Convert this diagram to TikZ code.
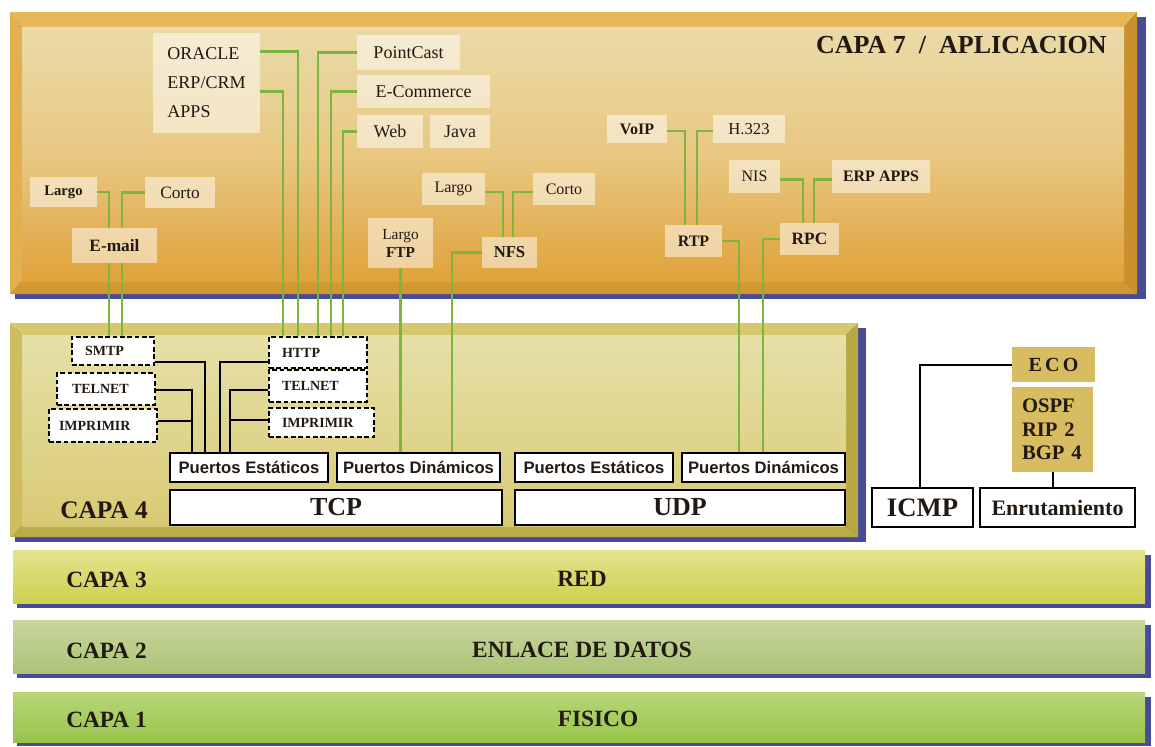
\documentclass[tikz,border=0pt]{standalone}
\usepackage{fontspec}
\setmainfont{Liberation Serif}
\newfontfamily\puertosfont{Liberation Sans}
\usetikzlibrary{calc}

\definecolor{gline}{RGB}{125,182,62}
\definecolor{shblue}{RGB}{72,76,150}
\definecolor{bevtopA}{RGB}{230,184,90}
\definecolor{bevleftA}{RGB}{226,176,78}
\definecolor{bevbotA}{RGB}{212,152,50}
\definecolor{bevrightA}{RGB}{202,144,46}
\definecolor{facetopA}{RGB}{234,218,168}
\definecolor{facemidA}{RGB}{232,200,130}
\definecolor{facebotA}{RGB}{224,162,58}
\definecolor{bevtopB}{RGB}{214,200,110}
\definecolor{bevleftB}{RGB}{206,190,96}
\definecolor{bevbotB}{RGB}{188,172,72}
\definecolor{bevrightB}{RGB}{184,168,68}
\definecolor{facetopB}{RGB}{230,224,168}
\definecolor{facebotB}{RGB}{216,202,116}
\definecolor{lthreetop}{RGB}{226,228,140}
\definecolor{lthreebot}{RGB}{206,208,80}
\definecolor{ltwotop}{RGB}{200,214,160}
\definecolor{ltwobot}{RGB}{172,196,118}
\definecolor{lonetop}{RGB}{184,214,120}
\definecolor{lonebot}{RGB}{152,196,74}
\definecolor{ecofill}{RGB}{216,188,98}
\definecolor{ink}{RGB}{34,26,18}

\newcommand\fs[2]{\fontsize{#1}{#2}\selectfont}
\newcommand\mybox[7]{\pgfmathsetmacro\bxw{(#4-#2)*0.75}\pgfmathsetmacro\bxh{(#5-#3)*0.75}%
  \node[inner sep=0pt, minimum width=\bxw pt, minimum height=\bxh pt, #6] (#1) at ({(#2+#4)/2},{(#3+#5)/2}) {#7};}
\newcommand\myleftbox[8]{\pgfmathsetmacro\bxw{(#4-#2)*0.75}\pgfmathsetmacro\bxh{(#5-#3)*0.75}%
  \pgfmathsetmacro\lbtw{(#4-#2-2*#7)*0.75}%
  \node[inner xsep=#7*0.75pt, inner ysep=0pt, text width=\lbtw pt, align=left, minimum width=\bxw pt, minimum height=\bxh pt, #6] (#1) at ({(#2+#4)/2},{(#3+#5)/2}) {#8};}

\tikzset{
  appbox/.style={fill=white, fill opacity=0.5, text opacity=1, text=ink},
  gl/.style={draw=gline, line width=2.2pt},
  bl/.style={draw=black, line width=1.5pt},
  dbox/.style={fill=white, draw=black, line width=1.1pt, dash pattern=on 3.5pt off 2pt, text=ink, font=\bfseries\fs{10.5}{12}},
  wbox/.style={fill=white, draw=black, line width=1.2pt, text=ink},
  pbox/.style={wbox, font=\puertosfont\bfseries\fs{12.5}{14}},
  gbox/.style={fill=ecofill, text=ink},
  lbl/.style={text=ink, inner sep=0pt},
}

\begin{document}
\begin{tikzpicture}[x=0.75pt,y=-0.75pt]
\useasboundingbox (0,0) rectangle (1155,746);
\fill[white] (0,0) rectangle (1155,746);

% ---------- Layer 7 panel ----------
\fill[shblue] (15,17) rectangle (1146,299);
\fill[bevtopA] (10,12) -- (1137,12) -- (1124,27) -- (22,27) -- cycle;
\fill[bevleftA] (10,12) -- (22,27) -- (22,281) -- (10,294) -- cycle;
\fill[bevbotA] (10,294) -- (22,281) -- (1124,281) -- (1137,294) -- cycle;
\fill[bevrightA] (1137,12) -- (1124,27) -- (1124,281) -- (1137,294) -- cycle;
\shade[top color=facetopA, bottom color=facebotA, middle color=facemidA] (22,27) rectangle (1124,281);

% ---------- Layer 4 panel ----------
\fill[shblue] (15,328) rectangle (866,542);
\fill[bevtopB] (10,323) -- (858,323) -- (846,335) -- (22,335) -- cycle;
\fill[bevleftB] (10,323) -- (22,335) -- (22,526) -- (10,537) -- cycle;
\fill[bevbotB] (10,537) -- (22,526) -- (846,526) -- (858,537) -- cycle;
\fill[bevrightB] (858,323) -- (846,335) -- (846,526) -- (858,537) -- cycle;
\shade[top color=facetopB, bottom color=facebotB] (22,335) rectangle (846,526);

% ---------- Bands 3,2,1 ----------
\fill[shblue] (17,555) rectangle (1151,608);
\shade[top color=lthreetop, bottom color=lthreebot] (13,550) rectangle (1145,603);
\fill[shblue] (17,625) rectangle (1151,678);
\shade[top color=ltwotop, bottom color=ltwobot] (13,620) rectangle (1145,673);
\fill[shblue] (17,697) rectangle (1151,746);
\shade[top color=lonetop, bottom color=lonebot] (13,692) rectangle (1145,742);

% ---------- Titles ----------
\node[lbl, anchor=east, font=\bfseries\fs{19.5}{22}] (capa7) at (1107,45) {CAPA 7 \ / \ APLICACION};
\node[lbl, font=\bfseries\fs{19}{22}] (capa4) at (104,510) {CAPA 4};
\node[lbl, anchor=west, font=\bfseries\fs{17.5}{20}] (capa3) at (66,580) {CAPA 3};
\node[lbl, font=\bfseries\fs{17.5}{20}] (red) at (582,579) {RED};
\node[lbl, anchor=west, font=\bfseries\fs{17.5}{20}] (capa2) at (66,651) {CAPA 2};
\node[lbl, font=\bfseries\fs{17.5}{20}] (enlace) at (582,650) {ENLACE DE DATOS};
\node[lbl, anchor=west, font=\bfseries\fs{17.5}{20}] (capa1) at (66,720) {CAPA 1};
\node[lbl, font=\bfseries\fs{17.5}{20}] (fisico) at (598,719) {FISICO};

% ---------- Layer 7 boxes ----------
\mybox{oracle}{153}{33}{260}{133}{appbox, align=left, font=\fs{13.5}{21.75}}{ORACLE\\ERP/CRM\\APPS}
\mybox{pointcast}{357}{35}{460}{70}{appbox, font=\fs{13.5}{16}}{PointCast}
\mybox{ecommerce}{357}{75}{490}{108}{appbox, font=\fs{13.5}{16}}{E-Commerce}
\mybox{web}{357}{115}{423}{148}{appbox, font=\fs{13.5}{16}}{Web}
\mybox{java}{430}{115}{490}{148}{appbox, font=\fs{13.5}{16}}{Java}
\mybox{largoA}{30}{177}{97}{207}{appbox, font=\bfseries\fs{11}{13}}{Largo}
\mybox{cortoA}{145}{177}{215}{208}{appbox, font=\fs{13}{15}}{Corto}
\mybox{email}{72}{228}{157}{263}{appbox, font=\bfseries\fs{13}{15}}{E-mail}
\mybox{ftp}{368}{218}{433}{268}{appbox, align=center, font=\fs{11.5}{13.5}}{Largo\\\textbf{FTP}}
\mybox{largoB}{422}{173}{485}{205}{appbox, font=\fs{12}{14}}{Largo}
\mybox{cortoB}{533}{173}{595}{205}{appbox, font=\fs{12}{14}}{Corto}
\mybox{nfs}{482}{237}{537}{268}{appbox, font=\bfseries\fs{12.5}{14}}{NFS}
\mybox{voip}{607}{115}{667}{143}{appbox, font=\bfseries\fs{12}{14}}{VoIP}
\mybox{hthree}{713}{115}{785}{143}{appbox, font=\fs{12.5}{14}}{H.323}
\mybox{rtp}{665}{225}{722}{257}{appbox, font=\bfseries\fs{12}{14}}{RTP}
\mybox{nis}{729}{160}{780}{193}{appbox, font=\fs{12}{14}}{NIS}
\mybox{erpapps}{832}{160}{930}{193}{appbox, font=\bfseries\fs{12}{14}}{ERP APPS}
\mybox{rpc}{780}{223}{839}{255}{appbox, font=\bfseries\fs{13}{15}}{RPC}

% ---------- Layer 4 boxes ----------
\myleftbox{smtp}{72}{337}{154}{365}{dbox}{13}{SMTP}
\myleftbox{telnetA}{57}{373}{155}{405}{dbox}{15}{TELNET}
\myleftbox{imprA}{49}{409}{157}{442}{dbox}{10}{IMPRIMIR}
\myleftbox{http}{269}{337}{367}{368}{dbox}{13}{HTTP}
\myleftbox{telnetB}{269}{370}{367}{402}{dbox}{13}{TELNET}
\myleftbox{imprB}{269}{408}{374}{437}{dbox}{13}{IMPRIMIR}
\mybox{pet}{170}{453}{328}{482}{pbox}{Puertos Estáticos}
\mybox{pdt}{337}{453}{500}{482}{pbox}{Puertos Dinámicos}
\mybox{peu}{515}{453}{673}{482}{pbox}{Puertos Estáticos}
\mybox{pdu}{682}{453}{845}{482}{pbox}{Puertos Dinámicos}
\mybox{tcp}{170}{490}{502}{525}{wbox, font=\bfseries\fs{19.5}{22}}{TCP}
\mybox{udp}{515}{490}{845}{525}{wbox, font=\bfseries\fs{19.5}{22}}{UDP}

% ---------- ICMP / routing ----------
\mybox{eco}{1012}{347}{1095}{382}{gbox, font=\bfseries\fs{15}{17}}{E\,C\,O}
\myleftbox{ospf}{1012}{387}{1093}{472}{gbox, font=\bfseries\fs{15.5}{17.6}}{10}{OSPF\\RIP 2\\BGP 4}
\mybox{icmp}{872}{488}{973}{527}{wbox, font=\bfseries\fs{20}{22}}{ICMP}
\mybox{enr}{980}{488}{1135}{527}{wbox, font=\bfseries\fs{16.5}{19}}{Enrutamiento}

% ---------- Green connectors ----------
\draw[gl] (largoA.east) -| ($(email.north)+(-5.5,0)$);
\draw[gl] (cortoA.west) -| ($(email.north)+(7.5,0)$);
\draw[gl] ($(email.south)+(-5.5,0)$) -- ($(smtp.north)+(-4,0)$);
\draw[gl] ($(email.south)+(7.5,0)$) -- ($(smtp.north)+(9,0)$);

\draw[gl] ($(oracle.north east)+(0,19)$) -| ($(http.north)+(-20,0)$);
\draw[gl] ($(oracle.north east)+(0,59)$) -| ($(http.north)+(-35,0)$);
\draw[gl] (pointcast.west) -| (http.north);
\draw[gl] (ecommerce.west) -| ($(http.north)+(13,0)$);
\draw[gl] (web.west) -| ($(http.north)+(25,0)$);

\draw[gl] (ftp.south) -- (ftp.south |- pdt.north);
\draw[gl] ($(largoB.east)+(0,3)$) -| ($(nfs.north)+(-6.5,0)$);
\draw[gl] ($(cortoB.west)+(0,3)$) -| ($(nfs.north)+(3.5,0)$);
\draw[gl] (nfs.west) -| ($(pdt.north)+(33.5,0)$);

\draw[gl] ($(voip.east)+(0,2)$) -| ($(rtp.north)+(-8.5,0)$);
\draw[gl] ($(hthree.west)+(0,2)$) -| ($(rtp.north)+(3.5,0)$);
\draw[gl] (rtp.east) -| ($(pdu.north)+(-24.5,0)$);
\draw[gl] ($(nis.east)+(0,3)$) -| ($(rpc.north)+(-6.5,0)$);
\draw[gl] ($(erpapps.west)+(0,3)$) -| ($(rpc.north)+(4.5,0)$);
\draw[gl] (rpc.west) -| ($(pdu.north)+(-0.5,0)$);

% ---------- Black connectors ----------
\draw[bl] ($(smtp.east)+(0,11)$) -| ($(pet.north)+(-44,0)$);
\draw[bl] ($(telnetA.east)+(0,1)$) -| ($(pet.north)+(-57,0)$);
\draw[bl] ($(imprA.east)+(0,-5)$) -| ($(pet.north)+(-57,0)$);
\draw[bl] ($(http.west)+(0,9.5)$) -| ($(pet.north)+(-29,0)$);
\draw[bl] ($(telnetB.west)+(0,4)$) -| ($(pet.north)+(-19,0)$);
\draw[bl] ($(imprB.west)+(0,-2.5)$) -| ($(pet.north)+(-19,0)$);

\draw[bl] (eco.west) -| ($(icmp.north)+(-2.5,0)$);
\draw[bl] (ospf.south) -- (ospf.south |- enr.north);
\end{tikzpicture}
\end{document}
